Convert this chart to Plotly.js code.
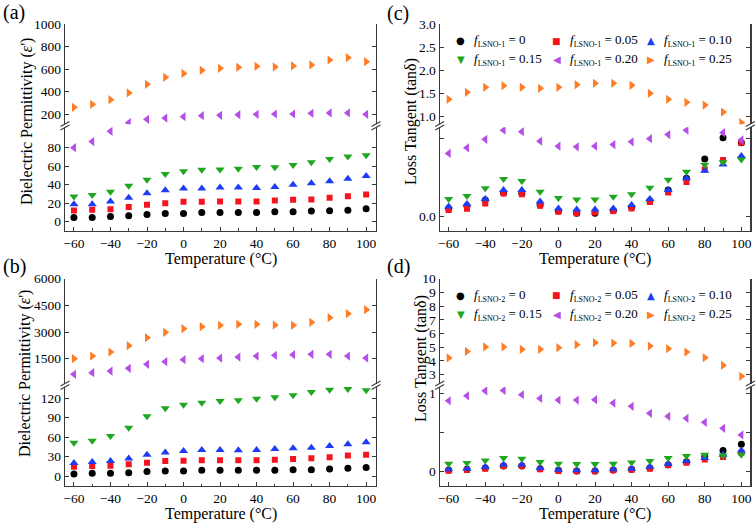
<!DOCTYPE html>
<html>
<head>
<meta charset="utf-8">
<script src="https://cdn.plot.ly/plotly-3.0.1.min.js"></script>
<style>html,body{margin:0;padding:0;background:#fff;}#chart{width:756px;height:524px;}</style>
</head>
<body>
<div id="chart"></div>
<script>
// ---------- DATA ----------
const temps = [-60,-50,-40,-30,-20,-10,0,10,20,30,40,50,60,70,80,90,100];
const fractions = ["0","0.05","0.10","0.15","0.20","0.25"];

// (a) Dielectric permittivity, LSNO-1
const eps1_f000 = [4.7,4.7,5.7,6.5,7.9,9.0,9.0,10.0,10.0,10.0,10.0,10.8,10.8,11.5,11.8,12.5,14.0];
const eps1_f005 = [12.2,12.9,13.6,15.8,18.3,20.0,21.5,21.5,21.9,21.9,21.9,22.9,23.7,24.0,25.8,27.6,29.4];
const eps1_f010 = [19.0,19.0,21.9,25.8,30.8,34.0,35.8,35.8,36.9,36.9,36.6,37.6,40.1,41.6,43.7,46.6,49.5];
const eps1_f015 = [27.2,29.0,32.3,39.0,45.5,51.6,54.5,56.3,56.6,57.3,59.1,58.8,61.3,64.2,67.7,70.6,72.0];
const eps1_f020 = [80,86.7,97.8,123,153,164,176,185,188,194,197,200,200,206,209,209,197];
const eps1_f025 = [259,286,327,387,464,526,561,588,606,615,624,618,627,636,680,701,665];

// (b) Dielectric permittivity, LSNO-2
const eps2_f000 = [3.6,4.6,4.6,5.6,7.2,8.2,8.2,9.2,9.2,9.2,9.2,9.2,10.2,10.2,11.2,12.3,13.3];
const eps2_f005 = [14.8,15.8,16.3,18.4,20.9,23.5,24.0,24.5,24.5,24.5,24.5,25.5,26.6,27.6,29.1,31.7,33.2];
const eps2_f010 = [20.4,22.0,23.5,27.1,33.2,36.3,38.8,40.3,40.3,39.8,40.3,41.9,42.9,43.9,46.5,49.0,52.1];
const eps2_f015 = [51.6,54.6,61.8,74.6,91.9,104.2,109.8,112.9,115.4,116.5,119.0,121.0,124.1,129.2,132.8,133.8,131.8];
const eps2_f020 = [619,712,806,956,1181,1331,1444,1500,1538,1594,1650,1688,1725,1744,1744,1650,1538];
const eps2_f025 = [1500,1650,1875,2231,2681,2981,3188,3300,3375,3431,3431,3394,3375,3544,3806,4031,4256];

// (c) Loss tangent, LSNO-1
const tan1_f000 = [0.026,0.034,0.053,0.076,0.074,0.037,0.018,0.011,0.011,0.019,0.030,0.051,0.085,0.122,0.183,0.251,0.235];
const tan1_f005 = [0.021,0.025,0.042,0.074,0.071,0.035,0.016,0.011,0.013,0.018,0.026,0.047,0.077,0.110,0.150,0.180,0.235];
const tan1_f010 = [0.032,0.040,0.056,0.085,0.085,0.048,0.026,0.023,0.023,0.026,0.037,0.056,0.085,0.122,0.146,0.166,0.193];
const tan1_f015 = [0.056,0.066,0.090,0.120,0.113,0.079,0.059,0.055,0.055,0.063,0.071,0.092,0.117,0.143,0.165,0.173,0.182];
const tan1_f020 = [0.201,0.219,0.246,0.275,0.270,0.240,0.224,0.222,0.224,0.229,0.238,0.248,0.261,0.275,0.300,0.267,0.244];
const tan1_f025 = [1.362,1.514,1.623,1.659,1.623,1.601,1.623,1.681,1.710,1.710,1.667,1.493,1.362,1.297,1.239,1.087,0.855];

// (d) Loss tangent, LSNO-2
const tan2_f000 = [0.017,0.026,0.043,0.068,0.068,0.034,0.013,0.004,0.004,0.017,0.026,0.043,0.085,0.123,0.191,0.268,0.349];
const tan2_f005 = [0.009,0.017,0.034,0.068,0.068,0.026,0.004,0.000,0.000,0.013,0.021,0.034,0.077,0.111,0.153,0.183,0.238];
const tan2_f010 = [0.026,0.034,0.055,0.089,0.089,0.043,0.021,0.013,0.013,0.026,0.034,0.060,0.094,0.132,0.170,0.213,0.268];
const tan2_f015 = [0.098,0.106,0.140,0.170,0.162,0.119,0.098,0.094,0.094,0.098,0.115,0.132,0.170,0.196,0.213,0.204,0.213];
const tan2_f020 = [0.906,0.970,1.034,1.038,0.983,0.936,0.915,0.915,0.919,0.877,0.834,0.745,0.706,0.681,0.630,0.553,0.468];
const tan2_f025 = [4.22,4.70,5.02,5.02,4.85,4.85,4.97,5.19,5.33,5.31,5.28,5.09,4.90,4.65,4.24,3.68,2.88];

// ---------- STYLE / LAYOUT ----------
const W = 756, H = 524;
const px = x => x / W;
const py = y => 1 - y / H;
const FONT = "'Liberation Serif', 'Times New Roman', serif";
const LINE = "#3a3a3a";

const symbols = ['circle','square','triangle-up','triangle-down','triangle-left','triangle-right'];
const glyphs  = ['●','■','▲','▼','◀','▶'];
const glyphSz = [10,9,10,10,10,10];
const colors  = ['#000000','#f5141e','#1c3cf5','#1fa81f','#b44ee6','#ff7b24'];
const sizes   = [7,6,8,8,8,8];

const panels = [
  { label:'(a)', series:[eps1_f000,eps1_f005,eps1_f010,eps1_f015,eps1_f020,eps1_f025],
    xl:65, xr:376, top:24, brk:125.7, bot:230.7, xr_:[-64.9,105.4],
    low:[-9.7,102.2], up:[109.3,1000],
    lowTicks:{tickvals:[0,20,40,60,80]}, upTicks:{tickvals:[200,400,600,800,1000]},
    ytitle:"Dielectric Permittivity (<i>ε</i>')", yt:[27,122], lab:[14,12], legend:null },
  { label:'(b)', series:[eps2_f000,eps2_f005,eps2_f010,eps2_f015,eps2_f020,eps2_f025],
    xl:65, xr:376, top:278.7, brk:385.3, bot:486, xr_:[-64.9,105.4],
    low:[-14.9,137.2], up:[88,6000],
    lowTicks:{tickvals:[0,30,60,90,120]}, upTicks:{tickvals:[1500,3000,4500,6000]},
    ytitle:"Dielectric Permittivity (<i>ε</i>')", yt:[25,374], lab:[14,266], legend:null },
  { label:'(c)', series:[tan1_f000,tan1_f005,tan1_f010,tan1_f015,tan1_f020,tan1_f025],
    xl:439.7, xr:750.3, top:24, brk:125.7, bot:230.7, xr_:[-64.9,104.9],
    low:[-0.0445,0.2843], up:[0.822,3.0],
    lowTicks:{tickvals:[0, 0.25], ticktext:['0.0', ' ']},
    upTicks:{tickvals:[1.0,1.5,2.0,2.5,3.0], ticktext:['1.0','1.5','2.0','2.5','3.0']},
    ytitle:"Loss Tangent (tanδ)", yt:[411,121], lab:[398,13], legend:{tag:'LSNO-1', rows:[40.7,60]} },
  { label:'(d)', series:[tan2_f000,tan2_f005,tan2_f010,tan2_f015,tan2_f020,tan2_f025],
    xl:439.7, xr:750.3, top:278.7, brk:385.3, bot:486, xr_:[-64.9,104.9],
    low:[-0.188,1.085], up:[2.336,10],
    lowTicks:{tickvals:[0, 0.5, 1], ticktext:['0', ' ', '1']},
    upTicks:{tickvals:[3,4,5,6,7,8,9,10]},
    ytitle:"Loss Tangent (tanδ)", yt:[421,359], lab:[398,266], legend:{tag:'LSNO-2', rows:[295.3,314.7]} }
];
const legendCols = [460.7, 556.7, 651.3];

const traces = [];
const layout = {
  width: W, height: H,
  margin: {l:0, r:0, t:0, b:0},
  paper_bgcolor: '#fff', plot_bgcolor: 'rgba(0,0,0,0)',
  font: {family: FONT, size: 14, color: '#000'},
  shapes: [], annotations: [],
  showlegend: false
};

const axBase = {
  showgrid:false, zeroline:false, showline:true, linecolor:LINE, linewidth:1.2,
  ticks:'inside', ticklen:4, tickwidth:1, tickcolor:LINE,
  tickfont:{family:FONT, size:13.5, color:'#000'}
};

panels.forEach((p, i) => {
  const nxB = 2*i+1, nxT = 2*i+2, nyL = 2*i+1, nyU = 2*i+2;
  const k = n => (n === 1 ? '' : String(n));
  const xB = 'x'+k(nxB), yL = 'y'+k(nyL), yU = 'y'+k(nyU);
  const xdom = [px(p.xl), px(p.xr)];
  const lowDom = [py(p.bot), py(p.brk+1.5)];
  const upDom = [py(p.brk-1.5), py(p.top)];
  const xt = {tickvals:[-60,-40,-20,0,20,40,60,80,100],
              minor:{dtick:10, tick0:0, ticks:'inside', ticklen:2.5, tickcolor:LINE}};

  layout['xaxis'+k(nxB)] = Object.assign({}, axBase, xt, {domain:xdom, range:p.xr_, anchor:yL, side:'bottom', mirror:false});
  layout['xaxis'+k(nxT)] = Object.assign({}, axBase, xt, {domain:xdom, range:p.xr_, anchor:yU, side:'top', mirror:false, showticklabels:false, matches:xB});
  layout['yaxis'+k(nyL)] = Object.assign({}, axBase, p.lowTicks, {domain:lowDom, range:p.low, anchor:xB, mirror:'ticks'});
  layout['yaxis'+k(nyU)] = Object.assign({}, axBase, p.upTicks, {domain:upDom, range:p.up, anchor:xB, mirror:'ticks'});

  const cut = p.low[1];   // axis break: values above go to the upper segment
  p.series.forEach((vals, s) => {
    const marker = {symbol:symbols[s], color:colors[s], size:sizes[s], line:{width:0}};
    const tag = p.legend ? p.legend.tag : (i === 0 ? 'LSNO-1' : 'LSNO-2');
    const name = '<i>f</i><sub><span style="font-size:8px">' + tag + '</span></sub> = ' + fractions[s];
    const lowVals = vals.map(v => (v <= cut ? v : null));
    const upVals  = vals.map(v => (v > cut ? v : null));
    traces.push({type:'scatter', mode:'markers', x:temps, y:lowVals, xaxis:xB, yaxis:yL,
                 marker:marker, name:name, showlegend:false, hoverinfo:'x+y'});
    traces.push({type:'scatter', mode:'markers', x:temps, y:upVals, xaxis:xB, yaxis:yU,
                 marker:marker, name:name, showlegend:false, hoverinfo:'x+y'});

    if (p.legend) {
      const row = Math.floor(s/3), col = s % 3;
      const mx = legendCols[col], my = p.legend.rows[row];
      layout.annotations.push({xref:'paper', yref:'paper', x:px(mx), y:py(my),
        text:glyphs[s], showarrow:false, xanchor:'center', yanchor:'middle',
        font:{family:"'DejaVu Sans', sans-serif", size:glyphSz[s], color:colors[s]}});
      layout.annotations.push({xref:'paper', yref:'paper', x:px(mx+11), y:py(my),
        text:name, showarrow:false, xanchor:'left', yanchor:'middle',
        font:{family:FONT, size:13, color:'#000'}});
    }
  });

  // break marks "//" on left and right axes
  [p.xl, p.xr].forEach(xa => {
    [p.brk-1.8, p.brk+1.8].forEach(yb => {
      layout.shapes.push({type:'line', xref:'paper', yref:'paper',
        x0:px(xa-4.5), y0:py(yb+2.5), x1:px(xa+4.5), y1:py(yb-2.5),
        line:{color:LINE, width:1.1}});
    });
  });

  layout.annotations.push({xref:'paper', yref:'paper', x:px(p.yt[0]), y:py(p.yt[1]),
    text:p.ytitle, textangle:-90, showarrow:false, xanchor:'center', yanchor:'middle',
    font:{family:FONT, size:16, color:'#000'}});
  layout.annotations.push({xref:'paper', yref:'paper', x:px((p.xl+p.xr)/2), y:py(p.bot+28),
    text:'Temperature (°C)', showarrow:false, xanchor:'center', yanchor:'middle',
    font:{family:FONT, size:16, color:'#000'}});
  layout.annotations.push({xref:'paper', yref:'paper', x:px(p.lab[0]), y:py(p.lab[1]),
    text:p.label, showarrow:false, xanchor:'center', yanchor:'middle',
    font:{family:FONT, size:20, color:'#000'}});
});

Plotly.newPlot('chart', traces, layout, {displayModeBar:false, staticPlot:true});
</script>
</body>
</html>
